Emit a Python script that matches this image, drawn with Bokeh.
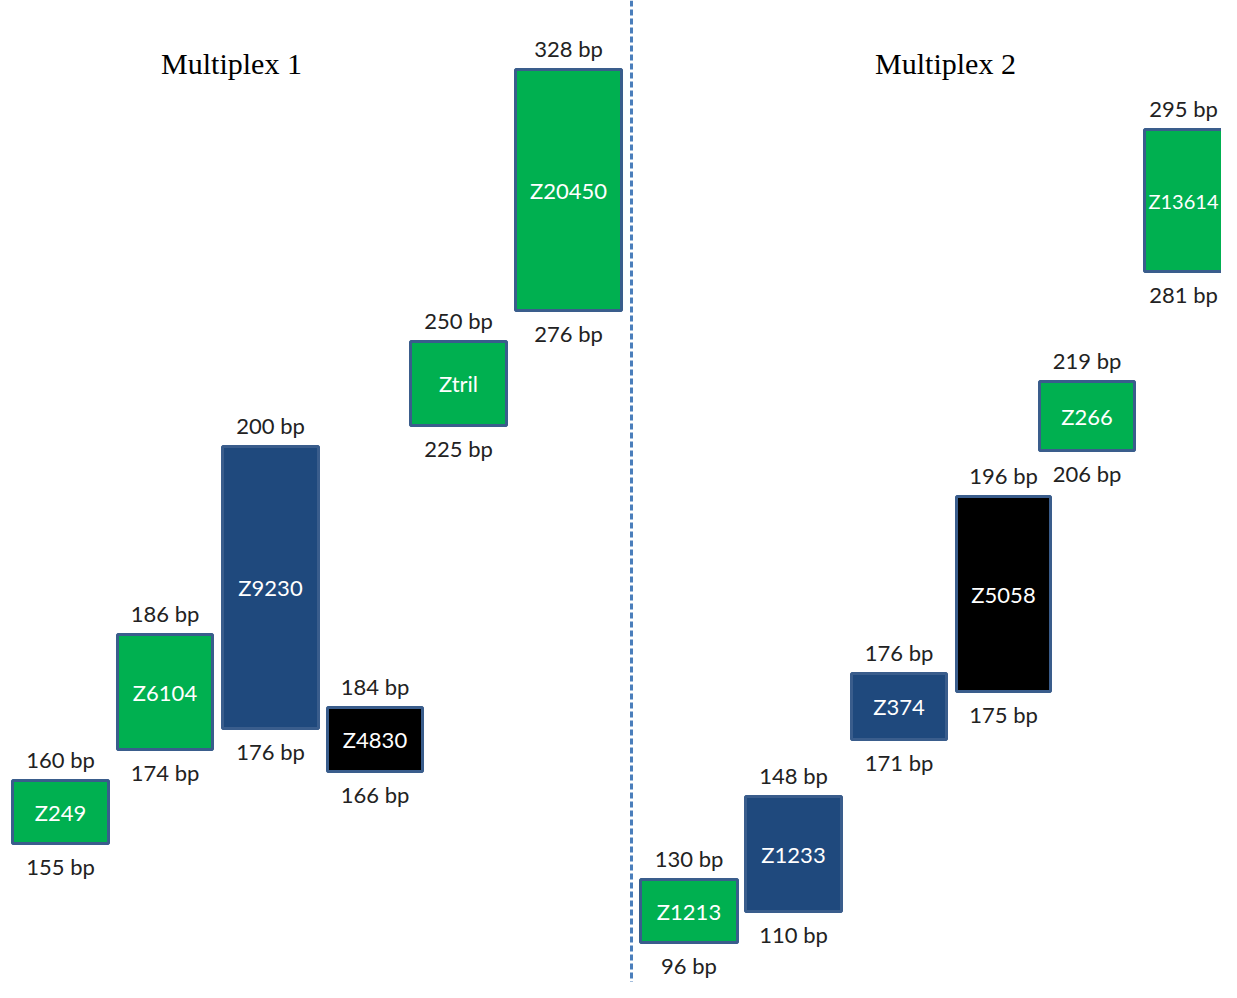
from bokeh.plotting import figure
from bokeh.models import ColumnDataSource, Range1d, Span
from bokeh.core.properties import value
from bokeh.embed import file_html
from bokeh.resources import INLINE

# ---- data ----
markers = ["Z249", "Z6104", "Z9230", "Z4830", "Ztril", "Z20450",
           "Z1213", "Z1233", "Z374", "Z5058", "Z266", "Z13614"]
bp_low = [155, 174, 176, 166, 225, 276, 96, 110, 171, 175, 206, 281]
bp_high = [160, 186, 200, 184, 250, 328, 130, 148, 176, 196, 219, 295]
kind = ["green", "green", "blue", "black", "green", "green",
        "green", "blue", "blue", "black", "green", "green"]
titles = ["Multiplex 1", "Multiplex 2"]

# schematic drawn extents of each box (diagram units, as drawn)
box_left = [12, 117, 222, 327, 410, 515, 640, 745, 851, 956, 1039, 1144]
box_right = [108, 212, 318, 422, 506, 621, 737, 841, 946, 1050, 1134, 1250]
box_top = [780, 634, 446, 707, 341, 69, 879, 796, 673, 496, 381, 129]
box_bottom = [843, 749, 728, 771, 425, 310, 942, 911, 739, 691, 450, 271]

palette = {"green": "#00B050", "blue": "#1F497D", "black": "#000000"}

W, H = 1221, 982
p = figure(width=W, height=H, output_backend="svg", toolbar_location=None,
           x_range=Range1d(0, W), y_range=Range1d(H, 0),
           min_border=0, outline_line_color=None)
p.axis.visible = False
p.grid.visible = False

cx = [(a + b) / 2 for a, b in zip(box_left, box_right)]
cx_vis = [min(c, 1183) for c in cx]
name_size = ["20px" if c > 1183 else "22px" for c in cx]
src = ColumnDataSource(dict(
    left=box_left, right=box_right, top=box_top, bottom=box_bottom,
    fill=[palette[k] for k in kind], name=markers, cx=cx_vis, nsize=name_size,
    cy=[(a + b) / 2 for a, b in zip(box_top, box_bottom)],
    hi=[f"{v} bp" for v in bp_high], lo=[f"{v} bp" for v in bp_low],
    hy=[t - 21 for t in box_top], ly=[b + 23 for b in box_bottom],
))

p.quad(left="left", right="right", top="top", bottom="bottom", source=src,
       fill_color="fill", line_color="#3A5D8C", line_width=3)

font = value("Lato")
p.text(x="cx", y="cy", text="name", source=src, text_color="white",
       text_font=font, text_font_size="nsize", text_align="center",
       text_baseline="middle")
p.text(x="cx", y="hy", text="hi", source=src, text_color="#222222",
       text_font=font, text_font_size="22px", text_align="center",
       text_baseline="middle")
p.text(x="cx", y="ly", text="lo", source=src, text_color="#222222",
       text_font=font, text_font_size="22px", text_align="center",
       text_baseline="middle")

p.text(x=[231, 945], y=[63, 63], text=titles, text_color="black",
       text_font=value("Liberation Serif"), text_font_size="30px",
       text_align="center", text_baseline="middle")

p.add_layout(Span(location=631, dimension="height", line_color="#4A7EBB",
                  line_width=3, line_dash="6 3"))

open("out.html", "w").write(file_html(p, INLINE))
